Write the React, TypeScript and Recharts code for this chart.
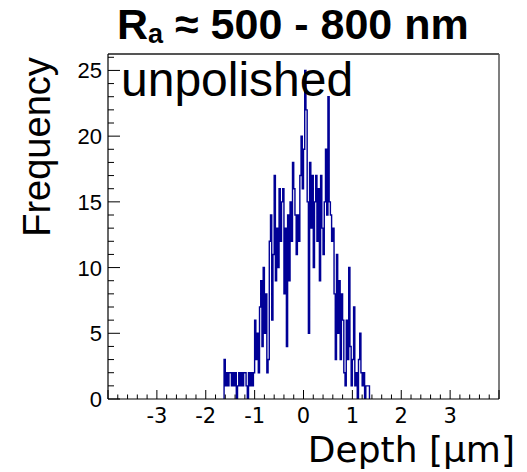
import React from 'react';
import { LineChart, Line, XAxis, YAxis, ReferenceLine } from 'recharts';

// Histogram: depth bins (left edge = binLow + i * binWidth), counts
const binLow = -1.625;
const binWidth = 0.025;
const counts = [
  3, 1, 2, 1, 2, 2, 1, 2, 1, 2, 0, 1, 2, 1, 2, 1, 2, 2, 1, 0, 2, 1, 2, 1, 2,
  6, 3, 5, 2, 7, 9, 4, 10, 5, 8, 2, 3, 12, 14, 6, 11, 17, 9, 13, 10, 16, 12, 15, 16, 8,
  13, 4, 14, 9, 15, 12, 18, 16, 14, 11, 14, 12, 17, 20, 16, 19, 25, 22, 15, 5, 18, 13, 17, 10, 15,
  17, 12, 16, 9, 17, 13, 11, 15, 19, 14, 23, 15, 14, 12, 13, 8, 3, 11, 5, 9, 3, 8, 6, 2, 1,
  6, 3, 10, 4, 1, 3, 7, 1, 2, 0, 3, 5, 2, 1, 2, 0, 1, 1, 1,
];

const xDomain: [number, number] = [-4, 4];
const yDomain: [number, number] = [0, 26.25];
const xMajorValues = [-3, -2, -1, 0, 1, 2, 3];
const xMajorLabels = ['-3', '-2', '-1', '0', '1', '2', '3'];
const xMinorStep = 0.2;
const yMajorValues = [0, 5, 10, 15, 20, 25];
const yMajorLabels = ['0', '5', '10', '15', '20', '25'];
const yMinorStep = 1;

const titleMain = 'R';
const titleSub = 'a';
const titleRest = ' ≈ 500 - 800 nm';
const xTitle = 'Depth [μm]';
const yTitle = 'Frequency';
const annotation = 'unpolished';

const data: { x: number; y: number }[] = [{ x: binLow, y: 0 }];
counts.forEach((c, i) => data.push({ x: Math.round((binLow + i * binWidth) * 1000) / 1000, y: c }));
data.push({ x: Math.round((binLow + counts.length * binWidth) * 1000) / 1000, y: 0 });

const xTicks: number[] = [];
for (let i = 0; i <= Math.round((xDomain[1] - xDomain[0]) / xMinorStep); i++) {
  xTicks.push(Math.round((xDomain[0] + i * xMinorStep) * 10) / 10);
}
const yTicks: number[] = [];
for (let v = 0; v <= 26; v += yMinorStep) yTicks.push(v);

const XTick = (props: any) => {
  const { x, y, payload } = props;
  const v = payload.value;
  const idx = xMajorValues.findIndex((m) => Math.abs(m - v) < 1e-6);
  const isInt = Math.abs(v - Math.round(v)) < 1e-6;
  return (
    <g>
      <line x1={x} x2={x} y1={y} y2={y - (isInt ? 9 : 4.5)} stroke="#000" strokeWidth={1} />
      {idx >= 0 && (
        <text x={x} y={y + 24} textAnchor="middle" fontFamily="'DejaVu Sans', sans-serif" fontSize={21} fill="#000">
          {xMajorLabels[idx]}
        </text>
      )}
    </g>
  );
};

const YTick = (props: any) => {
  const { x, y, payload } = props;
  const v = payload.value;
  const idx = yMajorValues.indexOf(v);
  return (
    <g>
      <line x1={x} x2={x + (idx >= 0 ? 12 : 6)} y1={y} y2={y} stroke="#000" strokeWidth={1} />
      {idx >= 0 && (
        <text x={x - 6} y={y + 8} textAnchor="end" fontFamily="'Liberation Sans', Arial, sans-serif" fontSize={22} fill="#000">
          {yMajorLabels[idx]}
        </text>
      )}
    </g>
  );
};

export default function App() {
  return (
    <div style={{ position: 'relative', width: 527, height: 472, background: '#fff' }}>
      <style>{`body{margin:0;background:#fff}`}</style>
      <LineChart width={527} height={472} data={data} margin={{ top: 54, right: 28, bottom: 43, left: 48 }}>
        <XAxis
          dataKey="x"
          type="number"
          domain={xDomain}
          ticks={xTicks}
          interval={0}
          height={30}
          tickSize={0}
          tickMargin={0}
          tickLine={false}
          axisLine={{ stroke: '#000', strokeWidth: 1.2 }}
          tick={<XTick />}
          allowDataOverflow
        />
        <YAxis
          type="number"
          domain={yDomain}
          ticks={yTicks}
          interval={0}
          width={60}
          tickSize={0}
          tickMargin={0}
          tickLine={false}
          axisLine={{ stroke: '#000', strokeWidth: 1.2 }}
          tick={<YTick />}
          allowDataOverflow
        />
        <ReferenceLine y={yDomain[1]} stroke="#555" strokeWidth={2} ifOverflow="extendDomain" />
        <ReferenceLine x={xDomain[1]} stroke="#555" strokeWidth={1.5} ifOverflow="extendDomain" />
        <Line
          type="stepAfter"
          dataKey="y"
          stroke="#000096"
          strokeWidth={1.4}
          dot={false}
          activeDot={false}
          isAnimationActive={false}
        />
      </LineChart>
      <svg width={527} height={472} style={{ position: 'absolute', left: 0, top: 0, pointerEvents: 'none' }}>
        <text x={117} y={39} fontFamily="'Liberation Sans', Arial, sans-serif" fontWeight="bold" fontSize={43} fill="#000">
          {titleMain}
          <tspan fontSize={27} dy={4}>{titleSub}</tspan>
          <tspan dy={-4}>{titleRest}</tspan>
        </text>
        <text x={121} y={96} fontFamily="'Liberation Sans', Arial, sans-serif" fontSize={48} fill="#000">
          {annotation}
        </text>
        <text
          x={50}
          y={147}
          transform="rotate(-90 50 147)"
          textAnchor="middle"
          fontFamily="'Liberation Sans', Arial, sans-serif"
          fontSize={38}
          fill="#000"
        >
          {yTitle}
        </text>
        <text x={515} y={462} textAnchor="end" fontFamily="'DejaVu Sans', sans-serif" fontSize={36} fill="#000">
          {xTitle}
        </text>
      </svg>
    </div>
  );
}
